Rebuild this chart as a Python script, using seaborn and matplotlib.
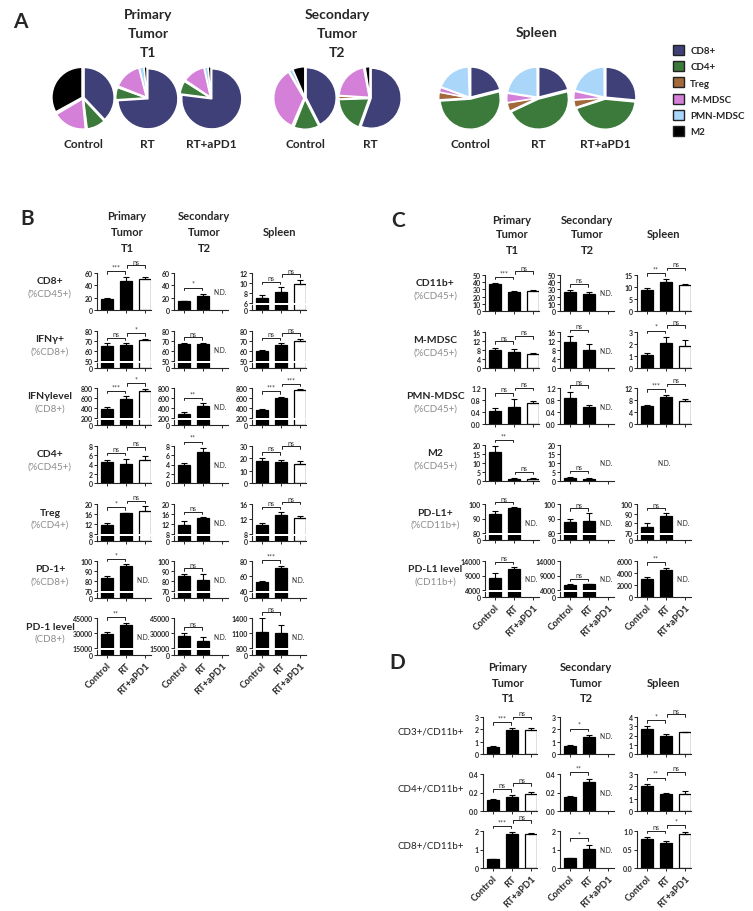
import matplotlib
matplotlib.use("Agg")
import matplotlib.pyplot as plt
import numpy as np
import pandas as pd
import seaborn as sns
from matplotlib.patches import Patch

sns.set_theme(style="ticks")
plt.rcParams["font.family"] = ["Lato", "DejaVu Sans"]
plt.rcParams["axes.linewidth"] = 0.8

W, H = 753, 912

# ---------------- Panel A: composition pies ----------------
CELL_TYPES = ["CD8+", "CD4+", "Treg", "M-MDSC", "PMN-MDSC", "M2"]
CELL_COLORS = ["#404079", "#3b7a3b", "#a2693b", "#d47fd8", "#aad7f9", "#000000"]

PIE_T1_CONTROL = [0.38, 0.10, 0.005, 0.18, 0.005, 0.33]
PIE_T1_RT = [0.74, 0.065, 0.005, 0.15, 0.025, 0.015]
PIE_T1_RT_APD1 = [0.77, 0.07, 0.005, 0.12, 0.02, 0.015]
PIE_T2_CONTROL = [0.425, 0.135, 0.005, 0.35, 0.02, 0.065]
PIE_T2_RT = [0.555, 0.19, 0.015, 0.21, 0.005, 0.025]
PIE_SP_CONTROL = [0.21, 0.53, 0.04, 0.025, 0.19, 0.005]
PIE_SP_RT = [0.21, 0.47, 0.045, 0.05, 0.224, 0.001]
PIE_SP_RT_APD1 = [0.265, 0.435, 0.04, 0.045, 0.214, 0.001]

GROUPS = ["Control", "RT", "RT+aPD1"]
BAR_COLORS = {"Control": "black", "RT": "black", "RT+aPD1": "white"}
COLUMNS = [["Primary", "Tumor", "T1"], ["Secondary", "Tumor", "T2"], ["Spleen"]]

# ---------------- Panel B ----------------
B_LABELS = ["CD8+", "IFNγ+", "IFNγlevel", "CD4+", "Treg", "PD-1+", "PD-1 level"]
B_SUBLABELS = ["(%CD45+)", "(%CD8+)", "(CD8+)", "(%CD45+)", "(%CD4+)", "(%CD8+)", "(CD8+)"]

B_CD8_MEAN = [[18, 47, 51], [14, 22, None], [7.0, 8.2, 9.9]]
B_CD8_SEM = [[1, 6, 3], [1, 4, None], [0.7, 1.0, 0.8]]
B_CD8_SIG = [["***", "ns"], ["*"], ["ns", "ns"]]
B_CD8_TICKS = [[0, 20, 40, 60], [0, 20, 40, 60], [6, 8, 10, 12]]

B_IFNG_MEAN = [[65, 66, 71], [67, 67, None], [60, 66, 70]]
B_IFNG_SEM = [[3, 2, 1], [1.5, 1, None], [1.5, 2, 2]]
B_IFNG_SIG = [["ns", "*"], ["ns"], ["ns", "ns"]]
B_IFNG_TICKS = [[50, 60, 70, 80], [50, 60, 70, 80], [50, 60, 70, 80]]

B_IFNGL_MEAN = [[390, 590, 750], [280, 450, None], [360, 600, 770]]
B_IFNGL_SEM = [[35, 50, 40], [40, 50, None], [30, 30, 15]]
B_IFNGL_SIG = [["***", "*"], ["**"], ["***", "***"]]
B_IFNGL_TICKS = [[200, 400, 600, 800], [200, 400, 600, 800], [200, 400, 600, 800]]

B_CD4_MEAN = [[4.6, 4.2, 5.0], [4.0, 6.8, None], [18, 17, 15.5]]
B_CD4_SEM = [[0.3, 1.0, 0.9], [0.3, 0.8, None], [2, 1.3, 2]]
B_CD4_SIG = [["ns", "ns"], ["**"], ["ns", "ns"]]
B_CD4_TICKS = [[0, 2, 4, 6, 8], [0, 2, 4, 6, 8], [0, 10, 20, 30]]

B_TREG_MEAN = [[11.5, 16.3, 17.3], [11.8, 14.5, None], [10.3, 13.0, 12.2]]
B_TREG_SEM = [[1.0, 0.3, 2.0], [1.3, 0.3, None], [0.6, 0.9, 0.5]]
B_TREG_SIG = [["*", "ns"], ["ns"], ["ns", "ns"]]
B_TREG_TICKS = [[8, 12, 16, 20], [8, 12, 16, 20], [8, 12, 16]]

B_PD1_MEAN = [[83, 95, None], [85, 81, None], [52, 71, None]]
B_PD1_SEM = [[2.5, 2, None], [2.5, 6, None], [2, 3, None]]
B_PD1_SIG = [["*"], ["ns"], ["***"]]
B_PD1_TICKS = [[70, 80, 90, 100], [70, 80, 90, 100], [40, 60, 80]]

B_PD1L_MEAN = [[29000, 38000, None], [27500, 22000, None], [1130, 1110, None]]
B_PD1L_SEM = [[2000, 2500, None], [3000, 4000, None], [280, 150, None]]
B_PD1L_SIG = [["**"], ["ns"], ["ns"]]
B_PD1L_TICKS = [[15000, 30000, 45000], [15000, 30000, 45000], [800, 1100, 1400]]

# ---------------- Panel C ----------------
C_LABELS = ["CD11b+", "M-MDSC", "PMN-MDSC", "M2", "PD-L1+", "PD-L1 level"]
C_SUBLABELS = ["(%CD45+)", "(%CD45+)", "(%CD45+)", "(%CD45+)", "(%CD11b+)", "(CD11b+)"]

C_CD11B_MEAN = [[37, 26, 28], [27, 23, None], [8.7, 12.0, 10.7]]
C_CD11B_SEM = [[2, 2, 1], [2, 4, None], [0.7, 1.2, 0.7]]
C_CD11B_SIG = [["***", "ns"], ["ns"], ["**", "ns"]]
C_CD11B_TICKS = [[0, 10, 20, 30, 40, 50], [0, 10, 20, 30, 40, 50], [0, 5, 10, 15]]

C_MMDSC_MEAN = [[7.8, 7.0, 6.3], [11.5, 8.0, None], [1.1, 2.1, 1.85]]
C_MMDSC_SEM = [[1.3, 1.5, 0.3], [2.7, 2.5, None], [0.15, 0.5, 0.45]]
C_MMDSC_SIG = [["ns", "ns"], ["ns"], ["*", "ns"]]
C_MMDSC_TICKS = [[0, 4, 8, 12, 16], [0, 4, 8, 12, 16], [0, 1, 2, 3]]

C_PMN_MEAN = [[0.45, 0.58, 0.70], [0.88, 0.58, None], [5.9, 9.0, 7.7]]
C_PMN_SEM = [[0.08, 0.25, 0.06], [0.2, 0.04, None], [0.4, 0.6, 0.7]]
C_PMN_SIG = [["ns", "ns"], ["ns"], ["***", "ns"]]
C_PMN_TICKS = [[0.0, 0.4, 0.8, 1.2], [0.0, 0.4, 0.8, 1.2], [0, 4, 8, 12]]

C_M2_MEAN = [[16, 1.3, 1.2], [1.8, 1.2, None], None]
C_M2_SEM = [[3.5, 0.4, 0.4], [0.6, 0.3, None], None]
C_M2_SIG = [["**", "ns"], ["ns"], []]
C_M2_TICKS = [[0, 5, 10, 15, 20], [0, 5, 10, 15, 20], None]

C_PDL1_MEAN = [[93, 97, None], [87.5, 88.5, None], [76, 88, None]]
C_PDL1_SEM = [[2, 0.8, None], [2.5, 5, None], [4, 2.5, None]]
C_PDL1_SIG = [["ns"], ["ns"], ["ns"]]
C_PDL1_TICKS = [[80, 90, 100], [80, 90, 100], [70, 80, 90, 100]]

C_PDL1L_MEAN = [[8200, 11200, None], [5700, 5900, None], [3000, 4500, None]]
C_PDL1L_SEM = [[1600, 900, None], [300, 300, None], [400, 300, None]]
C_PDL1L_SIG = [["ns"], ["ns"], ["**"]]
C_PDL1L_TICKS = [[4000, 9000, 14000], [4000, 9000, 14000], [0, 2000, 4000, 6000]]

# ---------------- Panel D ----------------
D_LABELS = ["CD3+/CD11b+", "CD4+/CD11b+", "CD8+/CD11b+"]

D_CD3_MEAN = [[0.58, 1.95, 1.95], [0.65, 1.35, None], [2.75, 2.0, 2.35]]
D_CD3_SEM = [[0.05, 0.12, 0.12], [0.06, 0.2, None], [0.25, 0.15, 0.05]]
D_CD3_SIG = [["***", "ns"], ["*"], ["*", "ns"]]
D_CD3_TICKS = [[0, 1, 2, 3], [0, 1, 2, 3], [0, 1, 2, 3, 4]]

D_CD4_MEAN = [[0.12, 0.15, 0.18], [0.15, 0.31, None], [2.05, 1.35, 1.4]]
D_CD4_SEM = [[0.01, 0.02, 0.03], [0.015, 0.04, None], [0.15, 0.12, 0.2]]
D_CD4_SIG = [["ns", "ns"], ["**"], ["**", "ns"]]
D_CD4_TICKS = [[0.0, 0.2, 0.4], [0.0, 0.2, 0.4], [0, 1, 2, 3]]

D_CD8_MEAN = [[0.48, 1.82, 1.82], [0.52, 1.05, None], [0.79, 0.68, 0.92]]
D_CD8_SEM = [[0.03, 0.12, 0.08], [0.03, 0.22, None], [0.05, 0.06, 0.04]]
D_CD8_SIG = [["***", "ns"], ["*"], ["ns", "*"]]
D_CD8_TICKS = [[0, 1, 2], [0, 1, 2], [0.0, 0.5, 1.0]]


def px_rect(x, y, w, h):
    return [x / W, 1 - (y + h) / H, w / W, h / H]


def px_text(fig, x, y, s, **kw):
    kw.setdefault("ha", "center")
    kw.setdefault("va", "center")
    fig.text(x / W, 1 - y / H, s, **kw)


def tick_text(ticks):
    if all(float(t).is_integer() for t in ticks):
        return [str(int(t)) for t in ticks]
    return [f"{t:.1f}" for t in ticks]


def draw_bars(ax, mean, sem, with_err=True):
    df = pd.DataFrame({"group": GROUPS, "value": [np.nan if m is None else m for m in mean]}).dropna()
    sns.barplot(data=df, x="group", y="value", hue="group", order=GROUPS, hue_order=GROUPS,
                palette=BAR_COLORS, edgecolor="black", linewidth=0.9, width=0.62,
                dodge=False, errorbar=None, legend=False, ax=ax)
    if with_err:
        pos = [i for i, m in enumerate(mean) if m is not None]
        ax.errorbar(pos, [mean[i] for i in pos],
                    yerr=[[0] * len(pos), [sem[i] for i in pos]],
                    fmt="none", ecolor="black", elinewidth=0.8, capsize=2.2, capthick=0.8, zorder=4)
    ax.set_xlabel("")
    ax.set_ylabel("")
    ax.set_xlim(-0.5, 2.3)


def base_style(ax):
    ax.tick_params(axis="both", labelsize=5, length=2, width=0.7, pad=1)
    for t in ax.get_yticklabels():
        t.set_fontweight("bold")


def add_brackets(ax, mean, sem, sig, lo, hi):
    R = hi - lo
    tops = [lo if m is None else m + s for m, s in zip(mean, [0 if s is None else s for s in sem])]
    dy = 0.07 * R
    y1 = max(tops[0], tops[1]) + 0.17 * R
    levels = [y1]
    if len(sig) > 1:
        own = max(tops[1], tops[2]) + 0.17 * R
        if own - lo < 0.6 * (y1 - lo):
            levels.append(own)
        else:
            levels.append(max(own, y1 + 0.15 * R))
    spans = [(0.0, 0.95), (1.05, 2.0)]
    for label, y, (x0, x1) in zip(sig, levels, spans):
        ax.plot([x0, x0, x1, x1], [y - dy, y, y, y - dy], color="black", lw=0.6, clip_on=False)
        ax.text((x0 + x1) / 2, y + 0.02 * R, label, ha="center", va="bottom",
                fontsize=5, color="#333333", clip_on=False)


def draw_cell(fig, x, y, w, h, mean, sem, sig, ticks, bottom_row):
    if mean is None:
        px_text(fig, x + w / 2, y + h / 2, "N.D.", fontsize=4.8)
        return
    broken = ticks[0] > 0
    if broken:
        low, gap = 5, 2
        ax_lo = fig.add_axes(px_rect(x, y + h - low, w, low))
        ax = fig.add_axes(px_rect(x, y, w, h - low - gap))
        draw_bars(ax_lo, mean, sem, with_err=False)
        ax_lo.set_ylim(0, ticks[0] * 0.2)
        ax_lo.set_yticks([0])
        ax_lo.set_yticklabels(["0"])
        sns.despine(ax=ax_lo)
        base_style(ax_lo)
        bottom_ax = ax_lo
        draw_bars(ax, mean, sem)
        sns.despine(ax=ax, bottom=True)
        ax.tick_params(axis="x", bottom=False, labelbottom=False)
    else:
        ax = fig.add_axes(px_rect(x, y, w, h))
        draw_bars(ax, mean, sem)
        sns.despine(ax=ax)
        bottom_ax = ax
    ax.set_ylim(ticks[0], ticks[-1])
    ax.set_yticks(ticks)
    ax.set_yticklabels(tick_text(ticks))
    base_style(ax)
    bottom_ax.set_xticks([0, 1, 2])
    if bottom_row:
        bottom_ax.set_xticklabels(GROUPS, rotation=45, ha="right", rotation_mode="anchor",
                                  fontsize=6.8, fontweight="bold")
        bottom_ax.tick_params(axis="x", pad=2)
    else:
        bottom_ax.set_xticklabels([])
    add_brackets(ax, mean, sem, sig, ticks[0], ticks[-1])
    if mean[2] is None:
        xfrac = (1.9 + 0.5) / 2.8
        px_text(fig, x + xfrac * w, y + h / 2, "N.D.", fontsize=4.8)


def draw_panel(fig, rows, col_x, row_tops, w, h, label_x, title_x, title_y):
    for r, (label, sub, means, sems, sigs, ticks) in enumerate(rows):
        top = row_tops[r]
        if sub is None:
            px_text(fig, label_x, top + 14, label, fontsize=7, color="#222222")
        else:
            px_text(fig, label_x, top + 8, label, fontsize=7.5, fontweight="bold")
            px_text(fig, label_x, top + 20, sub, fontsize=7, color="#8c8c8c")
        for c in range(3):
            draw_cell(fig, col_x[c], top, w, h, means[c], sems[c], sigs[c], ticks[c],
                      bottom_row=(r == len(rows) - 1))
    for c, lines in enumerate(COLUMNS):
        ys = title_y if len(lines) == 3 else [title_y[1]]
        for line, yy in zip(lines, ys):
            px_text(fig, title_x[c], yy, line, fontsize=8, fontweight="bold")


fig = plt.figure(figsize=(W / 100, H / 100), dpi=100)
fig.patch.set_facecolor("white")

# ---- Panel A ----
px_text(fig, 20, 22, "A", fontsize=15, fontweight="bold")
pies = [
    (83, "Control", PIE_T1_CONTROL), (147, "RT", PIE_T1_RT), (211, "RT+aPD1", PIE_T1_RT_APD1),
    (305, "Control", PIE_T2_CONTROL), (370, "RT", PIE_T2_RT),
    (470, "Control", PIE_SP_CONTROL), (538, "RT", PIE_SP_RT), (605, "RT+aPD1", PIE_SP_RT_APD1),
]
for cx, name, fracs in pies:
    ax = fig.add_axes(px_rect(cx - 33, 99 - 33, 66, 66))
    ax.pie(fracs, colors=CELL_COLORS, startangle=90, counterclock=False, radius=1,
           explode=[0.04] * len(fracs),
           wedgeprops=dict(edgecolor="white", linewidth=1.0))
    ax.set_xlim(-1.1, 1.1)
    ax.set_ylim(-1.1, 1.1)
    ax.set_aspect("equal")
    ax.axis("off")
    px_text(fig, cx, 145, name, fontsize=8.5, fontweight="bold")

for cx, lines in zip([148, 337, 537], COLUMNS):
    ys = [15, 34, 53] if len(lines) == 3 else [33]
    for line, yy in zip(lines, ys):
        px_text(fig, cx, yy, line, fontsize=10, fontweight="bold")

handles = [Patch(facecolor=c, edgecolor="#222222", linewidth=1.0) for c in CELL_COLORS]
fig.legend(handles, CELL_TYPES, loc="upper left", bbox_to_anchor=(664 / W, 1 - 37 / H),
           frameon=False, handlelength=1.2, handleheight=1.2, handletextpad=0.6,
           labelspacing=0.62, prop={"size": 7, "weight": "bold"})

# ---- Panel B ----
px_text(fig, 27, 219, "B", fontsize=15, fontweight="bold")
B_ROWS = list(zip(B_LABELS, B_SUBLABELS,
                  [B_CD8_MEAN, B_IFNG_MEAN, B_IFNGL_MEAN, B_CD4_MEAN, B_TREG_MEAN, B_PD1_MEAN, B_PD1L_MEAN],
                  [B_CD8_SEM, B_IFNG_SEM, B_IFNGL_SEM, B_CD4_SEM, B_TREG_SEM, B_PD1_SEM, B_PD1L_SEM],
                  [B_CD8_SIG, B_IFNG_SIG, B_IFNGL_SIG, B_CD4_SIG, B_TREG_SIG, B_PD1_SIG, B_PD1L_SIG],
                  [B_CD8_TICKS, B_IFNG_TICKS, B_IFNGL_TICKS, B_CD4_TICKS, B_TREG_TICKS, B_PD1_TICKS,
                   B_PD1L_TICKS]))
draw_panel(fig, B_ROWS, [97, 174, 252], [274, 332, 389, 447, 505, 562, 619], 54, 37,
           50, [127, 204, 280], [217, 233, 249])

# ---- Panel C ----
px_text(fig, 398, 221, "C", fontsize=15, fontweight="bold")
C_ROWS = list(zip(C_LABELS, C_SUBLABELS,
                  [C_CD11B_MEAN, C_MMDSC_MEAN, C_PMN_MEAN, C_M2_MEAN, C_PDL1_MEAN, C_PDL1L_MEAN],
                  [C_CD11B_SEM, C_MMDSC_SEM, C_PMN_SEM, C_M2_SEM, C_PDL1_SEM, C_PDL1L_SEM],
                  [C_CD11B_SIG, C_MMDSC_SIG, C_PMN_SIG, C_M2_SIG, C_PDL1_SIG, C_PDL1L_SIG],
                  [C_CD11B_TICKS, C_MMDSC_TICKS, C_PMN_TICKS, C_M2_TICKS, C_PDL1_TICKS, C_PDL1L_TICKS]))
draw_panel(fig, C_ROWS, [485, 560, 637], [276, 333, 389, 446, 505, 562], 54, 36,
           435, [512, 587, 664], [220, 235, 250])

# ---- Panel D ----
px_text(fig, 397, 663, "D", fontsize=15, fontweight="bold")
D_ROWS = list(zip(D_LABELS, [None] * 3,
                  [D_CD3_MEAN, D_CD4_MEAN, D_CD8_MEAN],
                  [D_CD3_SEM, D_CD4_SEM, D_CD8_SEM],
                  [D_CD3_SIG, D_CD4_SIG, D_CD8_SIG],
                  [D_CD3_TICKS, D_CD4_TICKS, D_CD8_TICKS]))
draw_panel(fig, D_ROWS, [483, 560, 637], [718, 775, 832], 54, 37,
           431, [508, 586, 664], [668, 684, 699])

fig.savefig("out.png", dpi=100, facecolor="white")
